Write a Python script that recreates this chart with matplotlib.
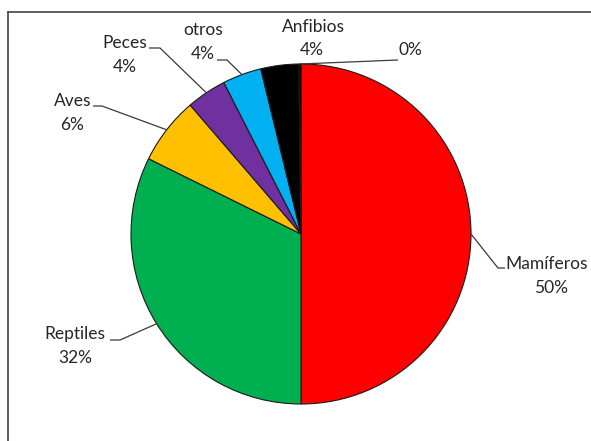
import numpy as np
import matplotlib
matplotlib.use("Agg")
import matplotlib.pyplot as plt
from matplotlib.lines import Line2D

# ---- data ----
categories = ["Mamíferos", "Reptiles", "Aves", "Peces", "otros", "Anfibios", ""]
values = [50.0, 32.3, 6.4, 3.8, 3.7, 3.6, 0.2]
colors = ["#FF0000", "#00B050", "#FFC000", "#7030A0", "#00B0F0", "#000000", "#000000"]

# ---- layout (pixel based) ----
W, H = 591, 441
CX, CY, R = 301, 234, 170

def px(x, y):
    return ((x - CX) / R, (CY - y) / R)

# name centre, pct centre, leader elbow, leader end  (pixel positions)
label_layout = {
    "Mamíferos": dict(name=(547, 264), pct=(551, 288), elbow=(498, 268), end=(505, 268)),
    "Reptiles": dict(name=(75, 334), pct=(75, 358), elbow=(120, 340), end=(110, 340)),
    "Aves": dict(name=(73, 101), pct=(72, 125), elbow=(102, 106), end=(93, 106)),
    "Peces": dict(name=(125, 43), pct=(125, 67), elbow=(160, 48), end=(149, 48)),
    "otros": dict(name=(203, 30), pct=(203, 54), elbow=(227, 60), end=(217, 60)),
    "Anfibios": dict(name=(313, 27), pct=(312, 50), elbow=None, end=None),
    "": dict(name=None, pct=(410, 50), elbow=(398, 60), end=(398, 60)),
}

plt.rcParams['font.family'] = ['Lato', 'DejaVu Sans']
fig = plt.figure(figsize=(W / 100, H / 100), dpi=100)
ax = fig.add_axes([0, 0, 1, 1])

wedges, _ = ax.pie(values, colors=colors, startangle=90, counterclock=False,
                   radius=1, center=(0, 0),
                   wedgeprops=dict(edgecolor="#1a1a1a", linewidth=0.8))

x0, y0 = px(0, H)
x1, y1 = px(W, 0)
ax.set_xlim(x0, x1)
ax.set_ylim(y0, y1)
ax.set_aspect("auto")
ax.axis("off")

total = sum(values)
cum = 0.0
txt_color = "#262626"
line_color = "#3a3a3a"
FS = 12.5
for cat, v in zip(categories, values):
    mid = (cum + v / 2) / total * 360.0
    cum += v
    theta = np.deg2rad(90 - mid)
    ex, ey = np.cos(theta), np.sin(theta)
    lay = label_layout[cat]
    pct = f"{round(v / total * 100):d}%"
    if lay["name"] is not None:
        nx, ny = px(*lay["name"])
        ax.text(nx, ny, cat, ha="center", va="center", fontsize=FS, color=txt_color)
    qx, qy = px(*lay["pct"])
    ax.text(qx, qy, pct, ha="center", va="center", fontsize=FS, color=txt_color)
    if lay["elbow"] is not None:
        bx, by = px(*lay["elbow"])
        dx, dy = px(*lay["end"])
        ax.plot([ex, bx, dx], [ey, by, dy], color=line_color, lw=0.9,
                solid_capstyle="butt")

# chart border (top and left visible)
fig.add_artist(Line2D([8 / W, 1], [1 - 12 / H, 1 - 12 / H], transform=fig.transFigure,
                      color="#444444", lw=1.2))
fig.add_artist(Line2D([8 / W, 8 / W], [0, 1 - 12 / H], transform=fig.transFigure,
                      color="#444444", lw=1.2))

fig.savefig("out.png", dpi=100, facecolor="white")
